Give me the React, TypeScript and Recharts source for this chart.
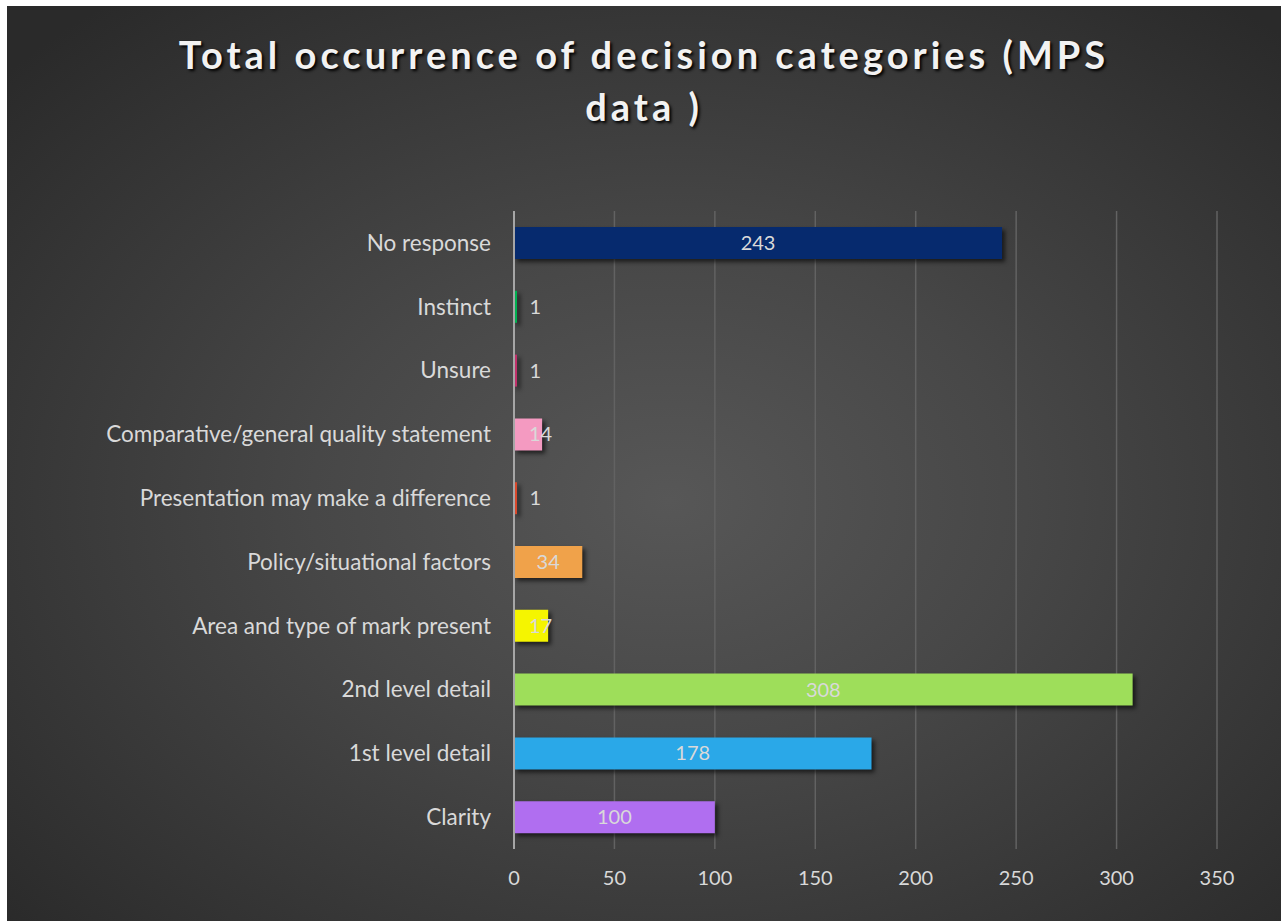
import React from 'react';
import { BarChart, Bar, XAxis, YAxis, CartesianGrid, Cell, LabelList } from 'recharts';

const categories = [
  'No response',
  'Instinct',
  'Unsure',
  'Comparative/general quality statement',
  'Presentation may make a difference',
  'Policy/situational factors',
  'Area and type of mark present',
  '2nd level detail',
  '1st level detail',
  'Clarity',
];
const values = [243, 1, 1, 14, 1, 34, 17, 308, 178, 100];
const colors = ['#062a6e', '#00b050', '#c0306a', '#f49ac1', '#d9482b', '#f0a24a', '#f5f500', '#9ede5a', '#2aa8e8', '#b06ef0'];
const xTicks = [0, 50, 100, 150, 200, 250, 300, 350];

const data = categories.map((c, i) => ({ name: c, value: values[i] }));

const FONT = 'Lato, "Open Sans", sans-serif';

const ValueLabel = (props: any) => {
  const { x, y, width, height, value } = props;
  const s = String(value);
  const w = s.length * 10.5;
  let cx = x + width / 2;
  if (cx - w / 2 < x + 16) cx = x + 16 + w / 2;
  return (
    <text x={cx} y={y + height / 2} dy="0.35em" textAnchor="middle" fill="#d9d9d9" fontSize={20} fontFamily={FONT}>
      {s}
    </text>
  );
};

export default function App() {
  return (
    <div
      style={{
        position: 'absolute',
        left: 7,
        top: 6,
        width: 1274,
        height: 915,
        background: 'radial-gradient(ellipse 70% 70% at 52% 54%, #575757 0%, #474747 40%, #2a2a2a 100%)',
        overflow: 'hidden',
      }}
    >
      <div
        style={{
          position: 'absolute',
          left: 0,
          top: 22,
          width: 1274,
          textAlign: 'center',
          color: '#f2f2f2',
          fontFamily: FONT,
          fontWeight: 700,
          fontSize: 38,
          letterSpacing: 4,
          lineHeight: '52px',
          textShadow: '2px 2px 3px #000',
        }}
      >
        <div>Total occurrence of decision categories (MPS</div>
        <div>data )</div>
      </div>
      <div style={{ position: 'absolute', left: 0, top: 0 }}>
        <BarChart
          width={1274}
          height={915}
          data={data}
          layout="vertical"
          margin={{ top: 205, right: 64, bottom: 30, left: 0 }}
          barSize={32}
        >
          <CartesianGrid horizontal={false} stroke="#626262" strokeWidth={1.5} />
          <XAxis
            type="number"
            domain={[0, 350]}
            ticks={xTicks}
            axisLine={false}
            tickLine={false}
            tickSize={0}
            tickMargin={22}
            height={42}
            tick={{ fill: '#d9d9d9', fontSize: 20, fontFamily: FONT }}
            interval={0}
          />
          <YAxis
            type="category"
            dataKey="name"
            width={507}
            axisLine={{ stroke: '#a6a6a6', strokeWidth: 2 }}
            tickLine={false}
            tickSize={0}
            tickMargin={23}
            tick={{ fill: '#d9d9d9', fontSize: 22.5, fontFamily: FONT }}
            interval={0}
          />
          <Bar dataKey="value" isAnimationActive={false} minPointSize={3}>
            {data.map((d, i) => (
              <Cell
                key={d.name}
                fill={colors[i]}
                style={{ filter: 'drop-shadow(3px 3px 2px rgba(0,0,0,0.6))' }}
              />
            ))}
            <LabelList dataKey="value" content={<ValueLabel />} />
          </Bar>
        </BarChart>
      </div>
    </div>
  );
}
